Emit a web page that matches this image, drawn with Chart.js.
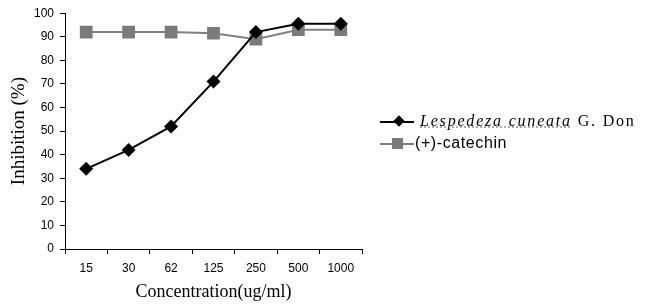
<!DOCTYPE html>
<html>
<head>
<meta charset="utf-8">
<script src="https://cdn.jsdelivr.net/npm/chart.js@4/dist/chart.umd.min.js"></script>
<style>
  html, body { margin: 0; padding: 0; background: #fff; }
  #wrap { position: relative; width: 650px; height: 307px; }
  #legend { position: absolute; left: 380px; top: 110px; font-size: 14px; }
  .row { position: relative; height: 22px; white-space: nowrap; }
  .ln { position: absolute; left: 0; width: 34px; height: 2px; }
  .mk { position: absolute; }
  .txt { position: absolute; }
</style>
</head>
<body>
<div id="wrap">
  <canvas id="chart" width="650" height="307"></canvas>
  <div id="legend">
    <div class="row">
      <div class="ln" style="top:11px;background:#000;"></div>
      <div class="mk" style="left:15px;top:7px;width:8px;height:8px;background:#000;transform:rotate(45deg);"></div>
      <div class="txt" style="left:40px;top:2px;font-family:'Liberation Serif',serif;font-size:16px;letter-spacing:1.8px;"><i style="text-decoration:underline dotted #999;">Lespedeza cuneata</i> G. Don</div>
    </div>
    <div class="row">
      <div class="ln" style="top:11px;background:#808080;"></div>
      <div class="mk" style="left:12px;top:6px;width:11px;height:11px;background:#7a7a7a;"></div>
      <div class="txt" style="left:35px;top:2px;font-family:'Liberation Sans',sans-serif;font-size:16px;letter-spacing:0.6px;">(+)-catechin</div>
    </div>
  </div>
</div>
<script>
  // Concentrations on the x axis
  const concentrations = ['15', '30', '62', '125', '250', '500', '1000'];
  // Inhibition (%)
  const lespedezaValues = [34, 42, 52, 71, 92, 95.5, 95.5];
  const catechinValues = [92, 92, 92, 91.5, 89, 93, 93];
  const yTicks = [0, 10, 20, 30, 40, 50, 60, 70, 80, 90, 100];

  const tickFont = { family: "'Liberation Sans', Arial, sans-serif", size: 12 };
  const xTitleFont = { family: "'Liberation Serif', 'Times New Roman', serif", size: 18 };
  const yTitleFont = { family: "'Liberation Serif', 'Times New Roman', serif", size: 19 };

  new Chart(document.getElementById('chart'), {
    type: 'line',
    data: {
      labels: concentrations,
      datasets: [{
        label: 'Lespedeza cuneata G. Don',
        data: lespedezaValues,
        borderColor: '#000',
        backgroundColor: '#000',
        borderWidth: 2,
        pointStyle: 'rectRot',
        pointRadius: 7,
        pointBorderWidth: 0,
        tension: 0,
        order: 1
      }, {
        label: '(+)-catechin',
        data: catechinValues,
        borderColor: '#808080',
        backgroundColor: '#7a7a7a',
        borderWidth: 2,
        pointStyle: 'rect',
        pointRadius: 9,
        pointBorderWidth: 0,
        tension: 0,
        order: 2
      }]
    },
    options: {
      responsive: false,
      animation: false,
      layout: { padding: { left: 0, right: 288, top: 13, bottom: 0 } },
      plugins: { legend: { display: false }, tooltip: { enabled: false } },
      scales: {
        x: {
          offset: true,
          grid: { display: true, drawOnChartArea: false, tickLength: 5, color: '#000', offset: true },
          border: { color: '#000', width: 1 },
          ticks: { color: '#000', font: tickFont, padding: 7, maxRotation: 0 },
          title: { display: true, text: 'Concentration(ug/ml)', color: '#000', font: xTitleFont, padding: { top: 4 } },
          afterFit: function(scale) { scale.height = 58; }
        },
        y: {
          min: 0,
          max: 100,
          afterBuildTicks: function(scale) { scale.ticks = yTicks.map(v => ({ value: v })); },
          grid: { display: true, drawOnChartArea: false, tickLength: 5, color: '#000' },
          border: { color: '#000', width: 1 },
          ticks: { color: '#000', font: tickFont, padding: 6 },
          title: { display: true, text: 'Inhibition (%)', color: '#000', font: yTitleFont, padding: { top: 8, bottom: 4 } },
          afterFit: function(scale) { scale.width = 65; }
        }
      }
    }
  });
</script>
</body>
</html>
